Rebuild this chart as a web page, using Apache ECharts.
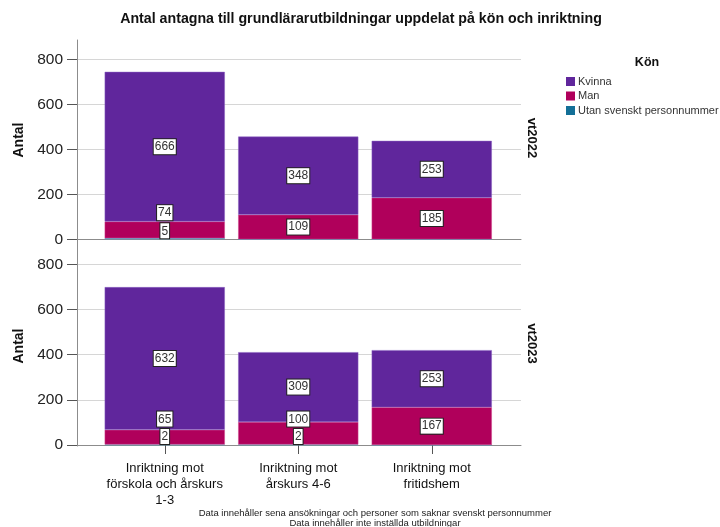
<!DOCTYPE html>
<html>
<head>
<meta charset="utf-8">
<script src="https://cdn.jsdelivr.net/npm/echarts@6/dist/echarts.min.js"></script>
<style>html,body{margin:0;padding:0;background:#fff}#c{width:720px;height:527px}</style>
</head>
<body>
<div id="c"></div>
<script>
const categories = ['Inriktning mot\nförskola och årskurs\n1-3', 'Inriktning mot\nårskurs 4-6', 'Inriktning mot\nfritidshem'];
const yTicks = [0, 200, 400, 600, 800];
const kvinna2022 = [666, 348, 253];
const man2022 = [74, 109, 185];
const utan2022 = [5, 0, 0];
const kvinna2023 = [632, 309, 253];
const man2023 = [65, 100, 167];
const utan2023 = [2, 2, 0];
const seriesNames = ['Kvinna', 'Man', 'Utan svenskt personnummer'];
const colors = {Kvinna: '#60269c', Man: '#b0005b', 'Utan svenskt personnummer': '#136f97'};
const borders = {Kvinna: '#8a62c2', Man: '#d0478f', 'Utan svenskt personnummer': '#4aa0c4'};

const FONT = 'Liberation Sans, Arial, sans-serif';
const labelBox = {
  color: '#333', fontSize: 12, fontFamily: FONT,
  backgroundColor: '#fff', borderColor: '#222', borderWidth: 1,
  padding: [2, 1, 1, 1]
};

const L = 77, R = 521, BL = 98, BR = 498.5;
const panels = [
  {top: 59.5, h: 179.8, k: kvinna2022, m: man2022, u: utan2022, stack: 'a'},
  {top: 264.3, h: 180.7, k: kvinna2023, m: man2023, u: utan2023, stack: 'b'}
];

const grid = [{left: L, top: 40, width: R - L, height: 406}];
const xAxis = [{gridIndex: 0, type: 'value', show: false}];
const yAxis = [{gridIndex: 0, type: 'value', min: 0, max: 1,
  axisLine: {show: true, lineStyle: {color: '#8c8c8c', width: 1}},
  axisTick: {show: false}, axisLabel: {show: false}, splitLine: {show: false}}];
const series = [];

panels.forEach((p, i) => {
  const fg = grid.length;
  grid.push({left: L, top: p.top, width: R - L, height: p.h});
  xAxis.push({gridIndex: fg, type: 'value', min: 0, max: 1,
    axisLine: {show: true, lineStyle: {color: '#8c8c8c'}}, axisTick: {show: false},
    axisLabel: {show: false}, splitLine: {show: false}});
  yAxis.push({gridIndex: fg, type: 'value', min: yTicks[0], max: yTicks[yTicks.length - 1], interval: 200,
    axisLine: {show: false},
    axisTick: {show: true, length: 10, lineStyle: {color: '#555'}},
    axisLabel: {color: '#222', fontSize: 15.5, fontFamily: FONT, margin: 14},
    splitLine: {show: true, lineStyle: {color: '#d6d6d6', width: 1}}});
  const bg = grid.length;
  grid.push({left: BL, top: p.top, width: BR - BL, height: p.h});
  xAxis.push({gridIndex: bg, type: 'category', data: categories,
    axisLine: {show: false},
    axisTick: {show: i === 1, alignWithLabel: true, length: 9, lineStyle: {color: '#555'}},
    axisLabel: {show: i === 1, interval: 0, color: '#111', fontSize: 13, fontFamily: FONT, lineHeight: 16, margin: 15}});
  yAxis.push({gridIndex: bg, type: 'value', min: yTicks[0], max: yTicks[yTicks.length - 1], show: false});

  const base = {type: 'bar', xAxisIndex: bg, yAxisIndex: bg, stack: p.stack, barCategoryGap: '10%'};
  series.push(Object.assign({}, base, {
    name: seriesNames[2],
    itemStyle: {color: colors[seriesNames[2]], borderColor: borders[seriesNames[2]], borderWidth: 0.5},
    data: p.u.map(v => ({value: v, label: {show: v > 0, position: 'insideBottom', distance: 1}})),
    label: Object.assign({}, labelBox)
  }));
  series.push(Object.assign({}, base, {
    name: seriesNames[1],
    itemStyle: {color: colors[seriesNames[1]], borderColor: borders[seriesNames[1]], borderWidth: 0.5},
    data: p.m.map((v, j) => ({value: v, label: p.u[j] > 0 ? {position: 'insideBottom', distance: 18} : {position: 'inside'}})),
    label: Object.assign({show: true}, labelBox)
  }));
  series.push(Object.assign({}, base, {
    name: seriesNames[0],
    itemStyle: {color: colors[seriesNames[0]], borderColor: borders[seriesNames[0]], borderWidth: 0.5},
    data: p.k.slice(),
    label: Object.assign({show: true, position: 'inside'}, labelBox)
  }));
});

const chart = echarts.init(document.getElementById('c'), null, {renderer: 'canvas'});
chart.setOption({
  animation: false,
  color: seriesNames.map(n => colors[n]),
  textStyle: {fontFamily: FONT},
  title: [
    {text: 'Antal antagna till grundlärarutbildningar uppdelat på kön och inriktning', left: 361, top: 12, padding: 0, textAlign: 'center',
      textStyle: {fontSize: 14.2, fontWeight: 'bold', color: '#111', fontFamily: FONT}},
    {text: 'Kön', left: 647, top: 56, padding: 0, textAlign: 'center', textStyle: {fontSize: 12.5, fontWeight: 'bold', color: '#111', fontFamily: FONT}},
    {text: 'Data innehåller sena ansökningar och personer som saknar svenskt personnummer\nData innehåller inte inställda utbildningar',
      left: 375, top: 509, padding: 0, textAlign: 'center',
      textStyle: {fontSize: 9.5, lineHeight: 9.5, fontWeight: 'normal', color: '#222', fontFamily: FONT}}
  ],
  legend: {
    data: seriesNames, orient: 'vertical', left: 566, top: 76, itemWidth: 9, itemHeight: 9, itemGap: 3.5,
    icon: 'rect', padding: 0, selectedMode: false,
    itemStyle: {borderWidth: 0},
    textStyle: {fontSize: 11, color: '#333', fontFamily: FONT, padding: [0, 0, 0, -2]}
  },
  grid, xAxis, yAxis, series,
  graphic: [
    {type: 'text', x: 19, y: 140, rotation: Math.PI / 2, style: {text: 'Antal', fontSize: 14, fontWeight: 'bold', fill: '#111', fontFamily: FONT, align: 'center', verticalAlign: 'middle'}},
    {type: 'text', x: 19, y: 346, rotation: Math.PI / 2, style: {text: 'Antal', fontSize: 14, fontWeight: 'bold', fill: '#111', fontFamily: FONT, align: 'center', verticalAlign: 'middle'}},
    {type: 'text', x: 532, y: 138, rotation: -Math.PI / 2, style: {text: 'vt2022', fontSize: 13, fontWeight: 'bold', fill: '#111', fontFamily: FONT, align: 'center', verticalAlign: 'middle'}},
    {type: 'text', x: 532, y: 343.5, rotation: -Math.PI / 2, style: {text: 'vt2023', fontSize: 13, fontWeight: 'bold', fill: '#111', fontFamily: FONT, align: 'center', verticalAlign: 'middle'}}
  ]
});
</script>
</body>
</html>
